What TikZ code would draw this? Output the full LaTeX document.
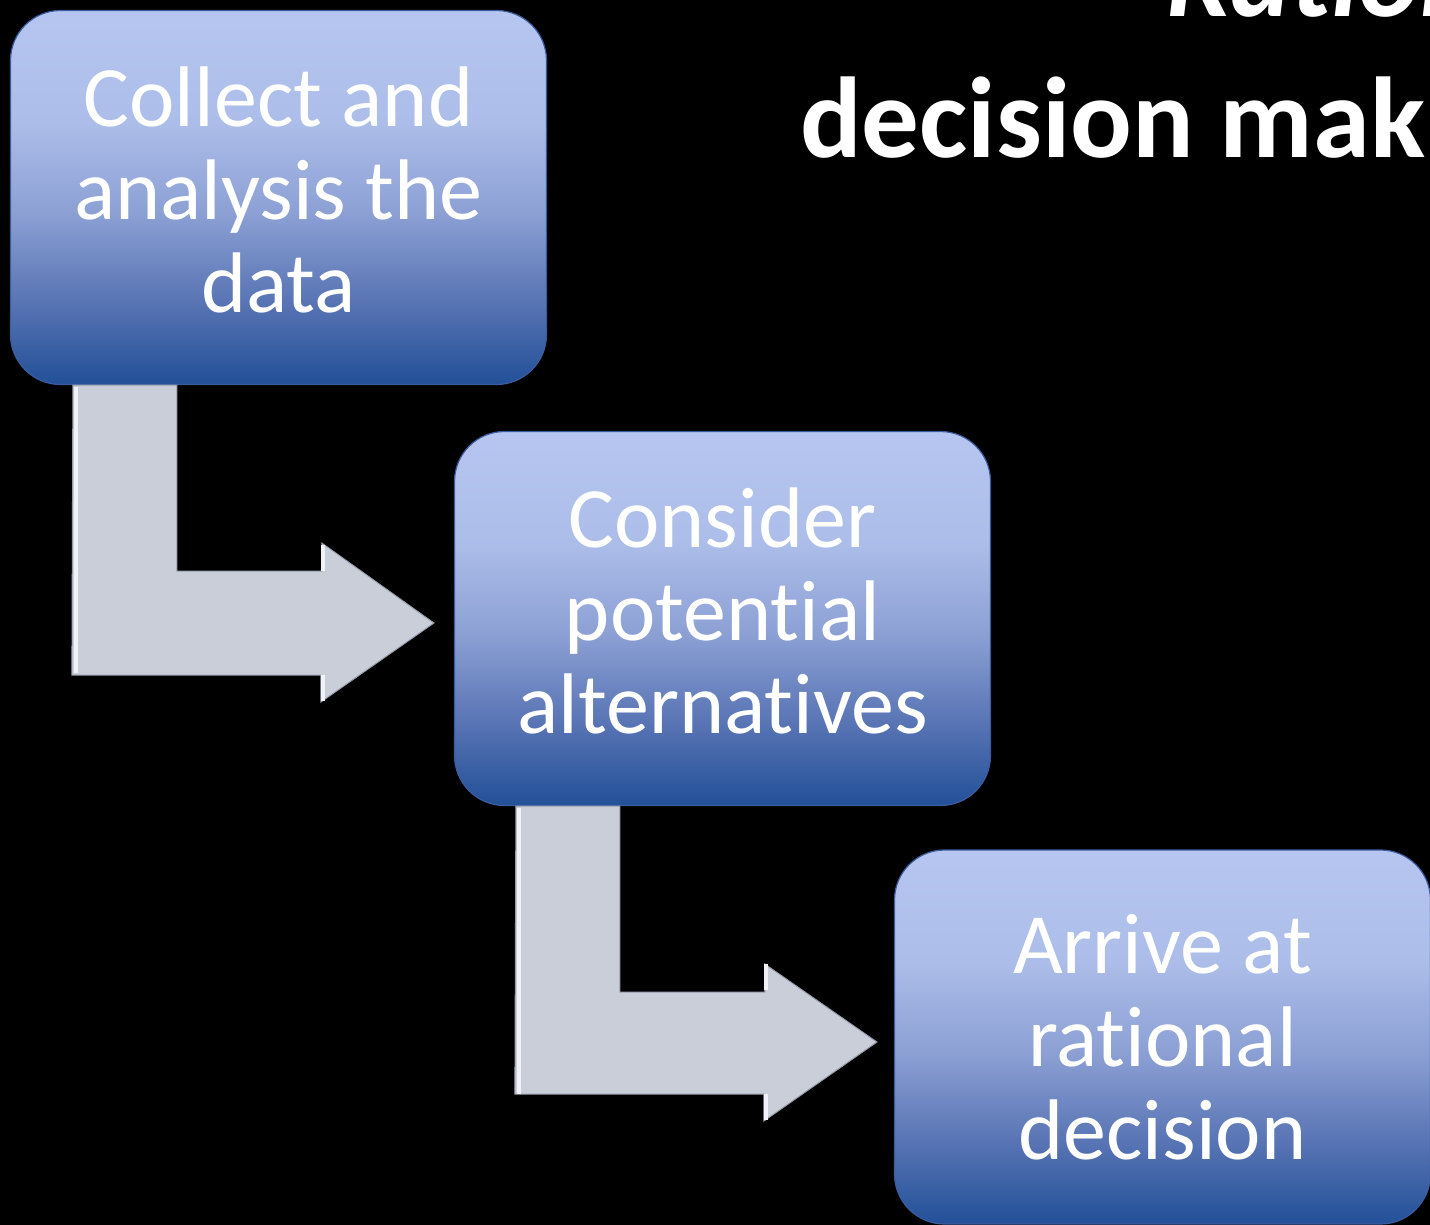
\documentclass[tikz,border=0pt]{standalone}
\usepackage{fontspec}
\setmainfont{Carlito}[Ligatures={NoCommon}]
\usetikzlibrary{calc}

\definecolor{boxtop}{RGB}{182,198,240}
\definecolor{boxhi}{RGB}{172,189,233}
\definecolor{boxmid}{RGB}{140,160,212}
\definecolor{boxlo}{RGB}{88,116,180}
\definecolor{boxbot}{RGB}{34,80,152}
\definecolor{boxrim}{RGB}{60,92,160}
\definecolor{arrowfill}{RGB}{201,206,217}
\definecolor{arrowedge}{RGB}{150,156,172}
\definecolor{arrowlight}{RGB}{240,242,248}

% vertical blue gradient of the step boxes (central 25bp..75bp maps onto the box)
\pgfdeclareverticalshading{stepshade}{100bp}{%
  color(0bp)=(boxbot); color(25bp)=(boxbot); color(36bp)=(boxlo);
  color(48bp)=(boxmid); color(60bp)=(boxhi); color(75bp)=(boxtop);
  color(100bp)=(boxtop)}

\tikzset{
  stepbox/.style={rectangle, rounded corners=50pt, inner sep=0pt,
    minimum width=536pt, minimum height=374pt,
    shading=stepshade, draw=boxrim, line width=1.2pt},
  steptext/.style={text=white, align=center,
    font=\fontsize{86}{93}\selectfont},
  bentarrow/.style={fill=arrowfill, draw=arrowedge, line width=1pt,
    line join=miter},
  bevel/.style={draw=arrowlight, line width=4pt, line cap=butt},
  titletext/.style={text=white, inner sep=0pt, anchor=base west}
}

\begin{document}
\begin{tikzpicture}[x=1pt,y=1pt]
  \useasboundingbox (0,0) rectangle (1430,-1225);
  \fill[black] (0,0) rectangle (1430,-1225);
  \clip (0,0) rectangle (1430,-1225);

  % title
  \node[titletext, font=\fontsize{115}{120}\selectfont\bfseries\itshape]
    (title1) at (1166,-17) {Rational};
  \node[titletext, font=\fontsize{115}{120}\selectfont\bfseries]
    (title2) at (800,-158) {decision making};

  % step boxes
  \node[stepbox] (b1) at (278.5,-197.5) {};
  \node[stepbox] (b2) at (722.5,-618.5) {};
  \node[stepbox] (b3) at (1162.5,-1037) {};

  \node[steptext] (t1) at ($(b1.center)+(0,8)$) {Collect and\\analysis the\\data};
  \node[steptext] (t2) at ($(b2.center)+(0,8)$) {Consider\\potential\\alternatives};
  \node[steptext] (t3) at ($(b3.center)+(0,0)$) {Arrive at\\rational\\decision};

  % bent arrows from one box to the next
  \coordinate (a1s) at ($(b1.south west)+(63,0)$);
  \coordinate (a1t) at ($(b2.west)+(-20,-4.5)$);
  \coordinate (a2s) at ($(b2.south west)+(62,0)$);
  \coordinate (a2t) at ($(b3.west)+(-17,-5)$);

  \foreach \s/\t in {a1s/a1t, a2s/a2t} {
    \draw[bentarrow] (\s) -- ++(104,0) -- ++(0,-186) -- ++(145,0) -- ++(0,28)
      -- (\t) -- ($(\t)+(-113,-79)$) -- ++(0,27) -- ++(-249,0) -- cycle;
    % light bevel on the outer left edge and on the back edges of the head
    \draw[bevel] ($(\s)+(3,-2)$) -- ++(0,-286);
    \draw[bevel] ($(\t)+(-111,78)$) -- ++(0,-26);
    \draw[bevel] ($(\t)+(-111,-52)$) -- ++(0,-26);
  }
\end{tikzpicture}
\end{document}
